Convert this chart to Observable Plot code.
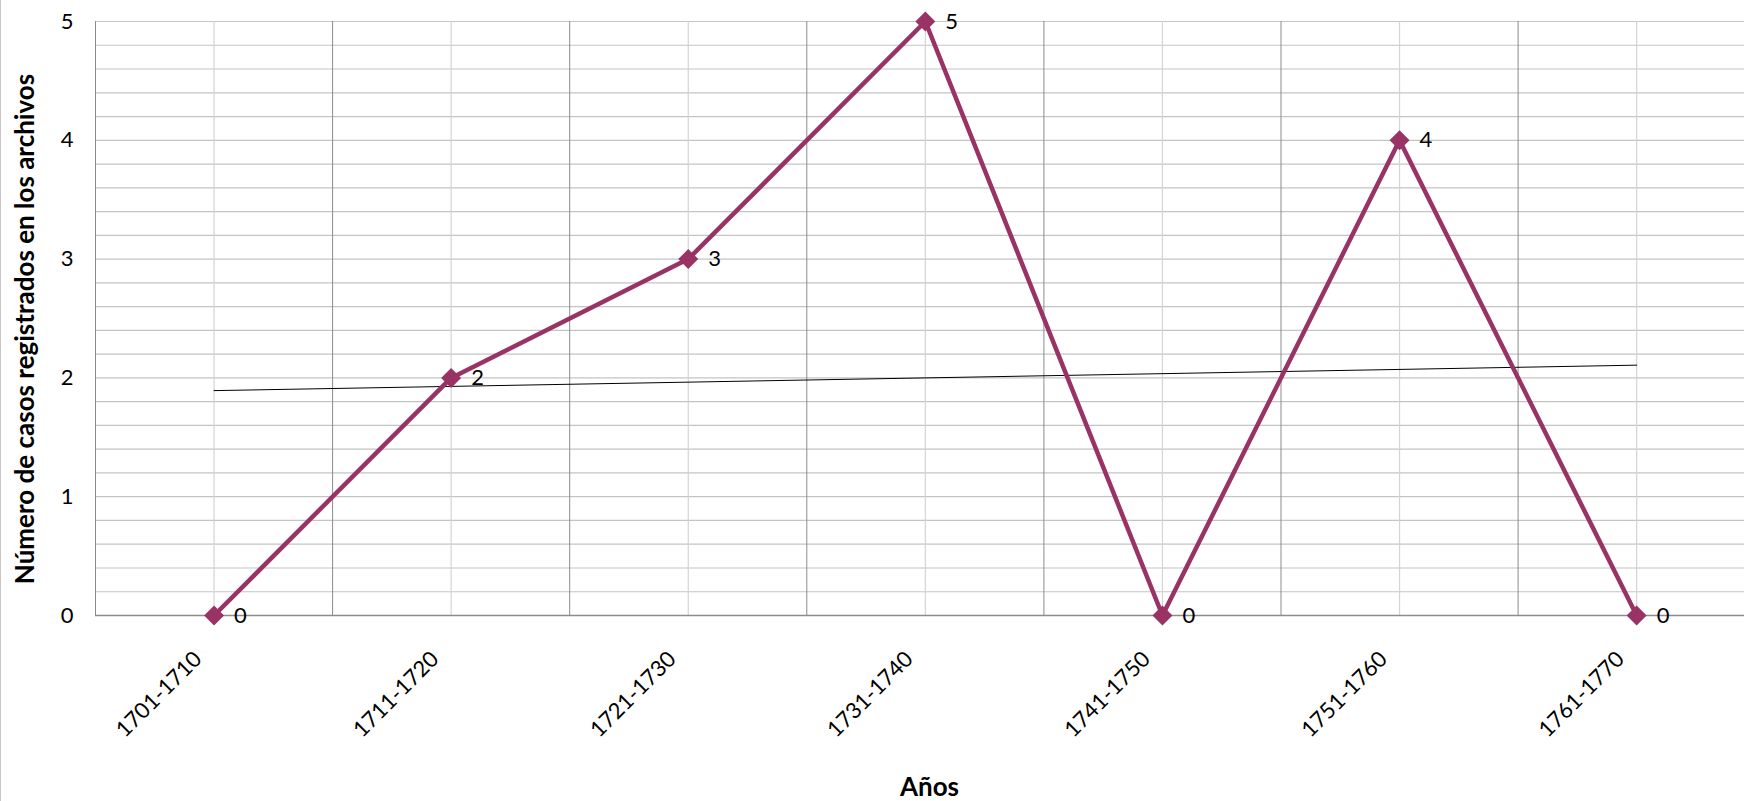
<!DOCTYPE html>
<html>
<head>
<meta charset="utf-8">
<script src="https://cdn.jsdelivr.net/npm/d3@7"></script>
<script src="https://cdn.jsdelivr.net/npm/@observablehq/plot@0.6"></script>
<style>
  html, body { margin: 0; padding: 0; background: #fff; }
  #wrap { position: relative; width: 1744px; height: 801px; overflow: hidden; }
  #edge { position: absolute; left: 0; top: 0; width: 1px; height: 801px; background: #c8c8c8; }
</style>
</head>
<body>
<div id="wrap"><div id="chart"></div><div id="edge"></div></div>
<script>
const categories = ["1701-1710", "1711-1720", "1721-1730", "1731-1740", "1741-1750", "1751-1760", "1761-1770"];
const values = [0, 2, 3, 5, 0, 4, 0];
const yTicks = [0, 1, 2, 3, 4, 5];
const yTitle = "Número de casos registrados en los archivos";
const xTitle = "Años";

const data = categories.map((c, i) => ({pos: i + 1, label: c, value: values[i]}));
const positions = data.map(d => d.pos);
const boundaries = [0.5, ...positions.map(p => p + 0.5)];
const minorY = d3.range(0, 5.0001, 0.2);

const W = 1744, H = 801;
const mL = 95, mT = 21, mB = 186;
const step = 237.1;
const xMax = 0.5 + (W - mL) / step;
const FONT = "Lato, 'Open Sans', sans-serif";
const plum = "#993366";

const chart = Plot.plot({
  width: W,
  height: H,
  marginLeft: mL,
  marginRight: 0,
  marginTop: mT,
  marginBottom: mB,
  style: {fontFamily: FONT, background: "#fff", overflow: "visible"},
  x: {type: "linear", domain: [0.5, xMax], axis: null},
  y: {domain: [0, 5], axis: null},
  marks: [
    Plot.gridY({ticks: minorY, stroke: "#c4c4c4", strokeOpacity: 1, strokeWidth: 1.2}),
    Plot.gridX({ticks: positions, stroke: "#d4d4d4", strokeOpacity: 1, strokeWidth: 1.2}),
    Plot.gridX({ticks: boundaries, stroke: "#8c8c8c", strokeOpacity: 1, strokeWidth: 1}),
    Plot.ruleY([0], {stroke: "#8c8c8c", strokeWidth: 1.4}),
    Plot.axisY({ticks: yTicks, label: null, tickSize: 0, tickPadding: 22, fontSize: 22, fill: "#000", tickFormat: d => String(d)}),
    Plot.linearRegressionY(data, {x: "pos", y: "value", ci: 0, stroke: "#000", strokeWidth: 1}),
    Plot.line(data, {x: "pos", y: "value", stroke: plum, strokeWidth: 4.5}),
    Plot.dot(data, {x: "pos", y: "value", symbol: "diamond2", r: 9, fill: plum, stroke: "none"}),
    Plot.text(data, {x: "pos", y: "value", text: d => String(d.value), dx: 20, textAnchor: "start", lineAnchor: "middle", fontSize: 22, fill: "#000"}),
    Plot.text(data, {x: "pos", y: () => 0, text: "label", rotate: -45, textAnchor: "end", lineAnchor: "middle", dx: -16, dy: 40, fontSize: 22, fill: "#000"}),
    Plot.text([yTitle], {frameAnchor: "left", text: d => d, rotate: -90, textAnchor: "middle", lineAnchor: "middle", dx: -70, dy: 10.5, fontSize: 26, fontWeight: "bold", fill: "#000"}),
    Plot.text([xTitle], {frameAnchor: "bottom", text: d => d, textAnchor: "middle", lineAnchor: "middle", dx: 9.5, dy: 172, fontSize: 26, fontWeight: "bold", fill: "#000"})
  ]
});
document.getElementById("chart").appendChild(chart);
</script>
</body>
</html>
